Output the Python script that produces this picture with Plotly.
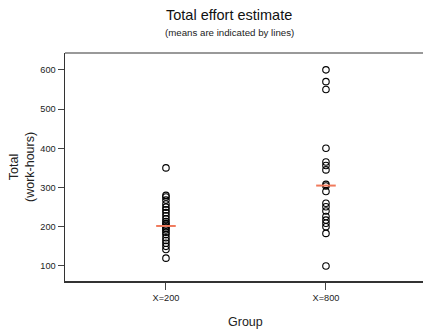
import plotly.graph_objects as go

groups = ["X=200", "X=800"]
group1_values = [350, 280, 276, 268, 258, 250, 243, 236, 228, 220, 213, 208,
                 204, 200, 196, 192, 186, 180, 172, 165, 158, 150, 142, 120]
group2_values = [600, 570, 550, 400, 365, 356, 345, 308, 304, 290, 260, 251,
                 240, 226, 217, 209, 200, 183, 100]
group_means = [202, 305]
y_ticks = [100, 200, 300, 400, 500, 600]

FONT = "Liberation Sans, Arial, sans-serif"
W = 436  # plot area runs past the right edge of the window, as in the reference
PLOT_W = W - 65

fig = go.Figure()
for i, vals in enumerate([group1_values, group2_values]):
    fig.add_trace(go.Scatter(
        x=[i] * len(vals), y=vals, mode="markers",
        marker=dict(symbol="circle-open", size=6.5, color="black",
                    line=dict(width=1.1, color="black")),
        showlegend=False, hoverinfo="y"))

fig.add_trace(go.Scatter(
    x=list(range(len(groups))), y=group_means, mode="markers",
    marker=dict(symbol="line-ew", size=14, color="#f07a5c",
                line=dict(width=2, color="#f07a5c")),
    showlegend=False, hoverinfo="y"))

fig.update_layout(
    template="none",
    width=W, height=333, autosize=False,
    margin=dict(l=65, r=0, t=53, b=52, pad=0, autoexpand=False),
    paper_bgcolor="white", plot_bgcolor="white",
    font=dict(family=FONT, color="#222"),
    xaxis=dict(range=[-0.631, -0.631 + PLOT_W / 160], tickvals=[0, 1],
               ticktext=groups,
               showgrid=False, zeroline=False, showline=True, automargin=False,
               linecolor="#333", linewidth=2, ticks="outside", ticklen=7,
               tickwidth=1, tickcolor="#444",
               tickfont=dict(size=9.2, family=FONT, color="#222")),
    yaxis=dict(range=[61.7, 643], tickvals=y_ticks, automargin=False,
               showgrid=False, zeroline=False, showline=True,
               linecolor="#333", linewidth=1.5, ticks="outside", ticklen=6,
               tickwidth=1, tickcolor="#444",
               tickfont=dict(size=9.2, family=FONT, color="#222")),
    shapes=[dict(type="line", xref="paper", yref="paper", x0=0, x1=1,
                 y0=1, y1=1, line=dict(color="#777", width=1.5))],
    annotations=[
        dict(text="Total effort estimate", xref="paper", yref="paper",
             x=(229 - 65) / PLOT_W, y=1.167, showarrow=False, xanchor="center",
             yanchor="middle", font=dict(size=14.5, family=FONT, color="#111")),
        dict(text="(means are indicated by lines)", xref="paper", yref="paper",
             x=(229 - 65) / PLOT_W, y=1.088, showarrow=False, xanchor="center",
             yanchor="middle", font=dict(size=9.7, family=FONT, color="#222")),
        dict(text="Group", xref="paper", yref="paper",
             x=(245.5 - 65) / PLOT_W, y=-0.18, showarrow=False,
             xanchor="center", yanchor="middle",
             font=dict(size=12.5, family=FONT, color="#222")),
        dict(text="Total<br>(work-hours)", xref="paper", yref="paper",
             x=(22 - 65) / PLOT_W, y=0.5, showarrow=False, textangle=-90,
             xanchor="center", yanchor="middle",
             font=dict(size=12.5, family=FONT, color="#222")),
    ],
)

fig.write_html("out.html",
               config={"displayModeBar": False, "staticPlot": True},
               post_script="document.documentElement.style.overflow='hidden';"
                           "document.body.style.margin='0';"
                           "document.body.style.overflow='hidden';")
